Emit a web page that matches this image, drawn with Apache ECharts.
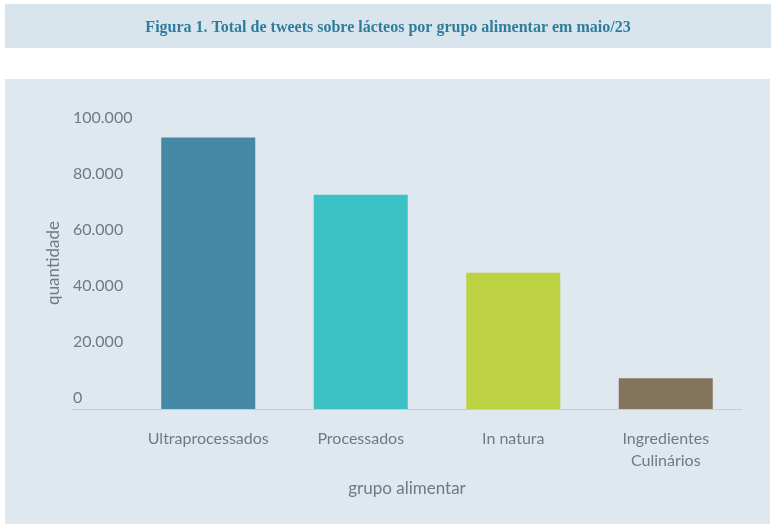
<!DOCTYPE html>
<html>
<head>
<meta charset="utf-8">
<script src="https://cdn.jsdelivr.net/npm/echarts@6/dist/echarts.min.js"></script>
<style>
  html, body { margin: 0; padding: 0; background: #ffffff; }
  #main { width: 776px; height: 530px; }
</style>
</head>
<body>
<div id="main"></div>
<script>
// dados
var categorias = ['Ultraprocessados', 'Processados', 'In natura', 'Ingredientes\nCulinários'];
var valores = [97000, 76500, 48700, 11000];
var cores = ['#4589a6', '#3cc1c5', '#bdd242', '#85745c'];
var yTicks = [0, 20000, 40000, 60000, 80000, 100000];

var textoCinza = '#6e7a84';
var fonte = 'Lato';

var chart = echarts.init(document.getElementById('main'));

function fmtMil(v) {
    // separador de milhar com ponto
    return String(v).replace(/\B(?=(\d{3})+(?!\d))/g, '.');
}

var option = {
    backgroundColor: '#ffffff',
    animation: false,
    graphic: [
        // faixa do título
        { type: 'rect', z: -10, shape: { x: 5, y: 4, width: 766, height: 44 }, style: { fill: '#d9e5ed' } },
        // painel do gráfico
        { type: 'rect', z: -10, shape: { x: 5, y: 79, width: 765, height: 445 }, style: { fill: '#dfe8ef' } },
        // prolongamento da linha do eixo sob os rótulos
        { type: 'line', z: 5, shape: { x1: 72, y1: 409.5, x2: 132, y2: 409.5 }, style: { stroke: '#c3ccd3', lineWidth: 1 } }
    ],
    title: {
        text: 'Figura 1. Total de tweets sobre lácteos por grupo alimentar em maio/23',
        left: 'center',
        top: 15,
        textStyle: {
            fontFamily: 'Liberation Serif',
            fontWeight: 'bold',
            fontSize: 16,
            color: '#2f7d9c'
        }
    },
    grid: {
        left: 132,
        right: 34,
        top: 129,
        bottom: 121,
        containLabel: false
    },
    xAxis: {
        type: 'category',
        data: categorias,
        name: 'grupo alimentar',
        nameLocation: 'middle',
        nameGap: 71,
        nameTextStyle: {
            fontFamily: fonte,
            fontSize: 17,
            color: textoCinza,
            padding: [0, 60, 0, 0]
        },
        axisTick: { show: false },
        axisLine: { show: true, lineStyle: { color: '#c3ccd3', width: 1 } },
        axisLabel: {
            fontFamily: fonte,
            fontSize: 16,
            color: textoCinza,
            lineHeight: 22,
            margin: 19,
            interval: 0
        }
    },
    yAxis: {
        type: 'value',
        min: 0,
        max: 100000,
        interval: 20000,
        name: 'quantidade',
        nameLocation: 'middle',
        nameGap: 68,
        nameTextStyle: {
            fontFamily: fonte,
            fontSize: 17,
            color: textoCinza,
            padding: [0, 0, 0, 12]
        },
        axisLine: { show: false },
        axisTick: { show: false },
        splitLine: { show: false },
        axisLabel: {
            fontFamily: fonte,
            fontSize: 16,
            color: textoCinza,
            align: 'left',
            margin: 59,
            verticalAlign: 'bottom',
            padding: [0, 0, 3, 0],
            formatter: function (v) {
                return yTicks.indexOf(v) >= 0 ? fmtMil(v) : '';
            }
        }
    },
    series: [
        {
            type: 'bar',
            barWidth: 94,
            data: valores.map(function (v, i) {
                return { value: v, itemStyle: { color: cores[i] } };
            })
        }
    ]
};

chart.setOption(option);
</script>
</body>
</html>
